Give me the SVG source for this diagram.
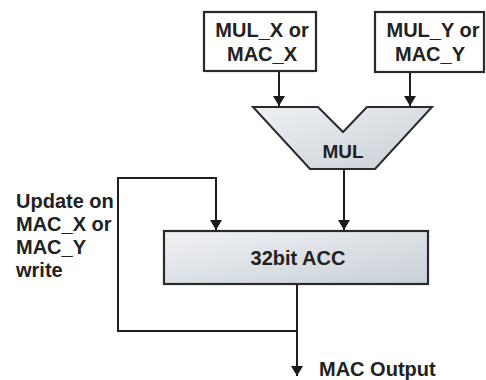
<svg xmlns="http://www.w3.org/2000/svg" width="486" height="380" viewBox="0 0 486 380">
<defs>
<linearGradient id="gMul" x1="0" y1="0" x2="1" y2="1">
<stop offset="0" stop-color="#eef0f3"/>
<stop offset="1" stop-color="#c9d0d7"/>
</linearGradient>
<linearGradient id="gAcc" x1="0" y1="0" x2="1" y2="1">
<stop offset="0" stop-color="#f1f2f4"/>
<stop offset="1" stop-color="#c8d0d8"/>
</linearGradient>
<marker id="ah" viewBox="0 0 10 12" refX="10" refY="6" markerWidth="10" markerHeight="12" markerUnits="userSpaceOnUse" orient="auto">
<path d="M0,0 L10,6 L0,12 Z" fill="#1a1a1a"/>
</marker>
</defs>
<style>
.box{fill:#ffffff;stroke:#2a2a2a;stroke-width:2.2}
.lbl{font-family:"Liberation Sans",Arial,sans-serif;font-weight:bold;font-size:20px;fill:#222}
.c{text-anchor:middle}
.wire{fill:none;stroke:#1f1f1f;stroke-width:2}
</style>
<g id="connectors">
<line class="wire" x1="279" y1="72" x2="279" y2="106" marker-end="url(#ah)"/>
<line class="wire" x1="410" y1="73" x2="410" y2="106" marker-end="url(#ah)"/>
<line class="wire" x1="344" y1="169" x2="344" y2="230" marker-end="url(#ah)"/>
<polyline class="wire" points="297,285 297,331 118,331 118,178 216,178 216,230" marker-end="url(#ah)"/>
<line class="wire" x1="297" y1="331" x2="297" y2="376" marker-end="url(#ah)"/>
</g>
<g id="mulx">
<rect class="box" x="204" y="12" width="112" height="59"/>
<text class="lbl c" x="262" y="37">MUL_X or</text>
<text class="lbl c" x="262" y="61">MAC_X</text>
</g>
<g id="muly">
<rect class="box" x="375" y="12" width="109" height="60"/>
<text class="lbl c" x="433" y="37">MUL_Y or</text>
<text class="lbl c" x="430" y="61">MAC_Y</text>
</g>
<g id="mul">
<polygon points="253,107 318,107 343,132 367,107 432,107 375,169 310,169" fill="url(#gMul)" stroke="#2a2a2a" stroke-width="2"/>
<text class="lbl c" x="343" y="158" style="font-size:19px">MUL</text>
</g>
<g id="acc">
<rect x="164" y="231" width="264" height="53" fill="url(#gAcc)" stroke="#2a2a2a" stroke-width="2.2"/>
<text class="lbl c" x="298" y="265">32bit ACC</text>
</g>
<g id="update-label">
<text class="lbl" x="16" y="208">Update on</text>
<text class="lbl" x="16" y="231">MAC_X or</text>
<text class="lbl" x="16" y="254">MAC_Y</text>
<text class="lbl" x="16" y="277">write</text>
</g>
<g id="output-label">
<text class="lbl" x="319" y="376">MAC Output</text>
</g>
</svg>
